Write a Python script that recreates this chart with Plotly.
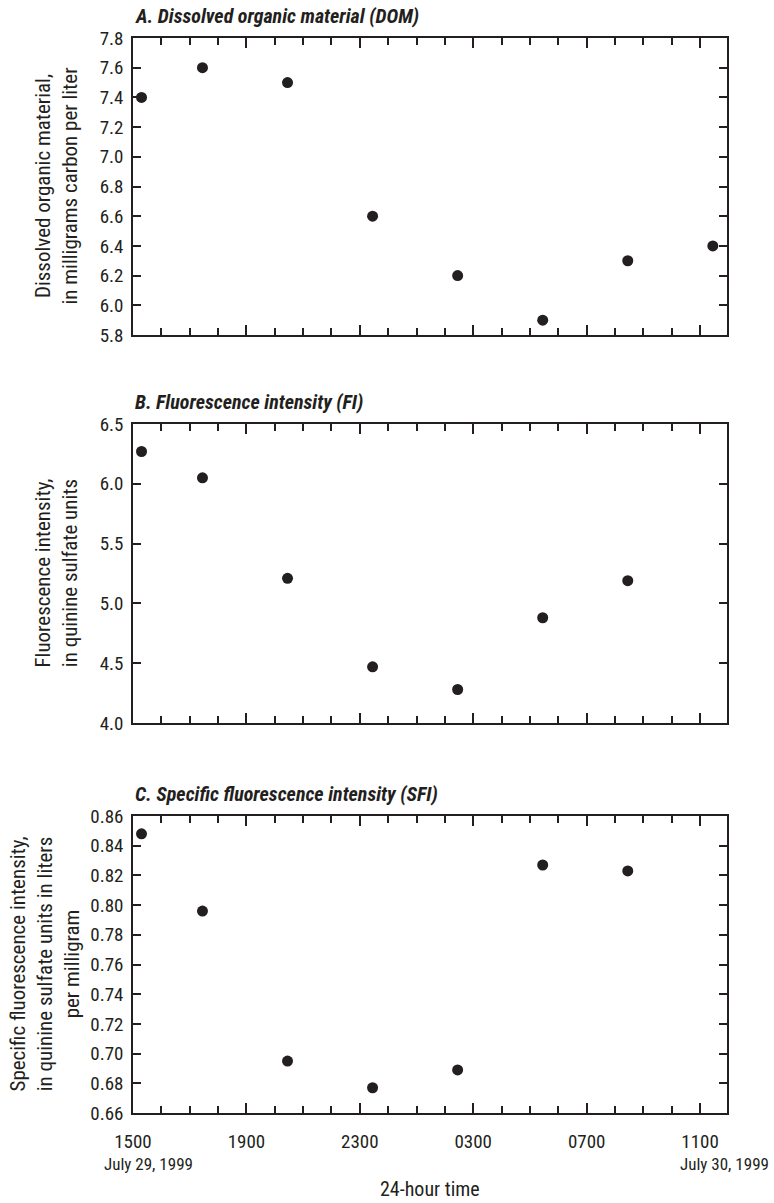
import plotly.graph_objects as go

# ---- data (hours elapsed since 1500 on July 29, 1999) ----
hours = [0.3, 2.45, 5.45, 8.45, 11.45, 14.45, 17.45, 20.45]
dom = [7.4, 7.6, 7.5, 6.6, 6.2, 5.9, 6.3, 6.4]
fi_hours = [0.3, 2.45, 5.45, 8.45, 11.45, 14.45, 17.45]
fi = [6.27, 6.05, 5.21, 4.47, 4.28, 4.88, 5.19]
sfi_hours = [0.3, 2.45, 5.45, 8.45, 11.45, 14.45, 17.45]
sfi = [0.848, 0.796, 0.695, 0.677, 0.689, 0.827, 0.823]

time_tickvals = [0, 4, 8, 12, 16, 20]
time_ticktext = ["1500", "1900", "2300", "0300", "0700", "1100"]

panel_titles = ["A. Dissolved organic material (DOM)",
                "B. Fluorescence intensity (FI)",
                "C. Specific fluorescence intensity (SFI)"]
y_titles = ["Dissolved organic material,<br>in milligrams carbon per liter",
            "Fluorescence intensity,<br>in quinine sulfate units",
            "Specific fluorescence intensity,<br>in quinine sulfate units in liters<br>per milligram"]

# ---- layout geometry ----
W, H = 774, 1203
ML, MR, MT, MB = 133, 47, 38, 90
PW = W - ML - MR
PH = H - MT - MB

def py(pix):  # pixel row -> paper y
    return (H - MB - pix) / PH

def px(pix):  # pixel column -> paper x
    return (pix - ML) / PW

FONT = "Liberation Sans Narrow, Arial Narrow, Roboto Condensed, Roboto, sans-serif"
INK = "#231f20"

domains = [(py(335), py(38)), (py(723), py(424)), (0.0, py(1113 - 297))]
tops = [38, 424, 816]

fig = go.Figure()
series = [(hours, dom), (fi_hours, fi), (sfi_hours, sfi)]
for i, (xs, ys) in enumerate(series):
    sfx = "" if i == 0 else str(i + 1)
    fig.add_trace(go.Scatter(x=xs, y=ys, mode="markers",
                             marker=dict(color=INK, size=11),
                             xaxis="x" + sfx, yaxis="y" + sfx,
                             cliponaxis=False, showlegend=False))

common_x = dict(range=[0, 20.95], showline=True, linecolor=INK, linewidth=1.5,
                mirror="ticks", ticks="inside", ticklen=10, tickwidth=1.5, tickcolor=INK,
                tickmode="array", tickvals=time_tickvals, ticktext=time_ticktext,
                minor=dict(tickmode="linear", tick0=0, dtick=1, ticks="inside",
                           ticklen=7, tickwidth=1.5, tickcolor=INK, showgrid=False),
                showgrid=False, zeroline=False, fixedrange=True,
                tickfont=dict(family=FONT, size=19, color=INK), ticklabelstandoff=10)
common_y = dict(showline=True, linecolor=INK, linewidth=1.5, mirror="ticks",
                ticks="inside", ticklen=8, tickwidth=1.5, tickcolor=INK,
                showgrid=False, zeroline=False,
                tickfont=dict(family=FONT, size=19, color=INK), ticklabelstandoff=4)

y_ranges = [(5.8, 7.8, 0.2, ".1f"), (4.0, 6.5, 0.5, ".1f"), (0.66, 0.86, 0.02, ".2f")]

layout = dict(width=W, height=H, margin=dict(l=ML, r=MR, t=MT, b=MB),
              plot_bgcolor="white", paper_bgcolor="white", showlegend=False)
for i in range(3):
    sfx = "" if i == 0 else str(i + 1)
    xa = dict(common_x, domain=[0, 1], anchor="y" + sfx, showticklabels=(i == 2))
    lo, hi, dt, fmt = y_ranges[i]
    ya = dict(common_y, domain=list(domains[i]), anchor="x" + sfx,
              range=[lo, hi], tick0=lo, dtick=dt, tickformat=fmt)
    layout["xaxis" + sfx] = xa
    layout["yaxis" + sfx] = ya
fig.update_layout(**layout)

annotations = []
for i in range(3):
    annotations.append(dict(text="<b><i>" + panel_titles[i] + "</i></b>",
                            xref="paper", yref="paper", x=0, y=py(tops[i] - 22),
                            xanchor="left", yanchor="middle", showarrow=False,
                            font=dict(family=FONT, size=20, color=INK)))
ycent = [px(56), px(56), px(45)]
for i in range(3):
    annotations.append(dict(text=y_titles[i], xref="paper", yref="paper",
                            x=ycent[i], y=(domains[i][0] + domains[i][1]) / 2,
                            xanchor="center", yanchor="middle", textangle=-90,
                            showarrow=False, align="center",
                            font=dict(family=FONT, size=21, color=INK)))
annotations.append(dict(text="July 29, 1999", xref="paper", yref="paper",
                        x=px(102), y=py(1164), xanchor="left", yanchor="middle",
                        showarrow=False, font=dict(family=FONT, size=17, color=INK)))
annotations.append(dict(text="July 30, 1999", xref="paper", yref="paper",
                        x=px(771), y=py(1164), xanchor="right", yanchor="middle",
                        showarrow=False, font=dict(family=FONT, size=17, color=INK)))
annotations.append(dict(text="24-hour time", xref="paper", yref="paper",
                        x=0.5, y=py(1189), xanchor="center", yanchor="middle",
                        showarrow=False, font=dict(family=FONT, size=20, color=INK)))
fig.update_layout(annotations=annotations)

fig.write_html("out.html")
